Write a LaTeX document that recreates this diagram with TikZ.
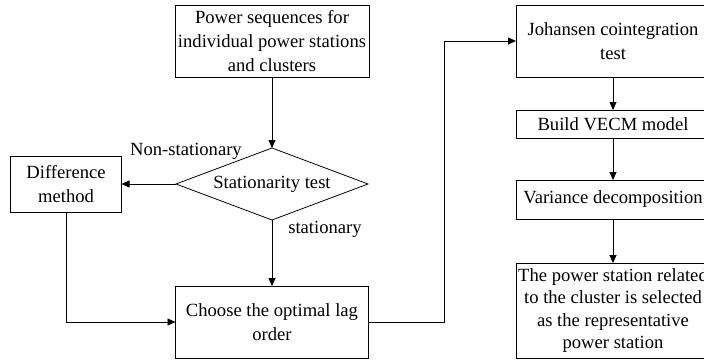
\documentclass[tikz,border=0pt]{standalone}
\usepackage{fontspec}
\setmainfont{Liberation Serif}
\usetikzlibrary{arrows.meta,shapes.geometric}
\begin{document}
\begin{tikzpicture}[x=1pt,y=-1pt,
  every node/.style={font=\fontsize{18.6}{24}\selectfont, inner sep=0pt, outer sep=0pt},
  box/.style={draw, line width=0.8pt, rectangle, align=center},
  decision/.style={draw, line width=0.8pt, diamond, aspect=2.67},
  link/.style={line width=0.8pt, -{Triangle[length=8pt,width=7pt]}},
  tag/.style={anchor=base}
]
\useasboundingbox (0,0) rectangle (704,362);
\clip (0,0) rectangle (704,362);

% left column
\node[box, minimum width=194pt, minimum height=72pt] (src) at (272,41)
  {Power sequences for\\individual power stations\\and clusters};
\node[decision, minimum width=192pt, minimum height=72pt] (stat) at (272,184) {};
\node at (272,184) {Stationarity test};
\node[box, minimum width=111pt, minimum height=56pt] (diff) at (66,184)
  {Difference\\method};
\node[box, minimum width=193pt, minimum height=72pt] (lag) at (272,322)
  {Choose the optimal lag\\order};

% right column
\node[box, minimum width=194pt, minimum height=72pt] (joh) at (613,41)
  {Johansen cointegration\\test};
\node[box, minimum width=194pt, minimum height=28pt] (vecm) at (613,124)
  {Build VECM model};
\node[box, minimum width=194pt, minimum height=39pt] (var) at (613,199.5)
  {Variance decomposition};
\node[box, minimum width=194pt, minimum height=95pt,
      font=\fontsize{18.6}{22.5}\selectfont] (sel) at (613,310.5)
  {The power station related\\to the cluster is selected\\as the representative\\power station};

% branch labels
\node[tag] (nonst) at (186,155) {Non-stationary};
\node[tag] (st) at (325,233) {stationary};

% connectors
\coordinate (dturn) at (diff.south |- lag.west);
\coordinate (rturn) at (444,322);
\coordinate (rtop) at (444,41);
\draw[link] (src.south) -- (stat.north);
\draw[link] (stat.west) -- (diff.east);
\draw[link] (stat.south) -- (lag.north);
\draw[link] (diff.south) -- (dturn) -- (lag.west);
\draw[link] (lag.east) -- (rturn) -- (rtop) -- (joh.west);
\draw[link] (joh.south) -- (vecm.north);
\draw[link] (vecm.south) -- (var.north);
\draw[link] (var.south) -- (sel.north);
\end{tikzpicture}
\end{document}
